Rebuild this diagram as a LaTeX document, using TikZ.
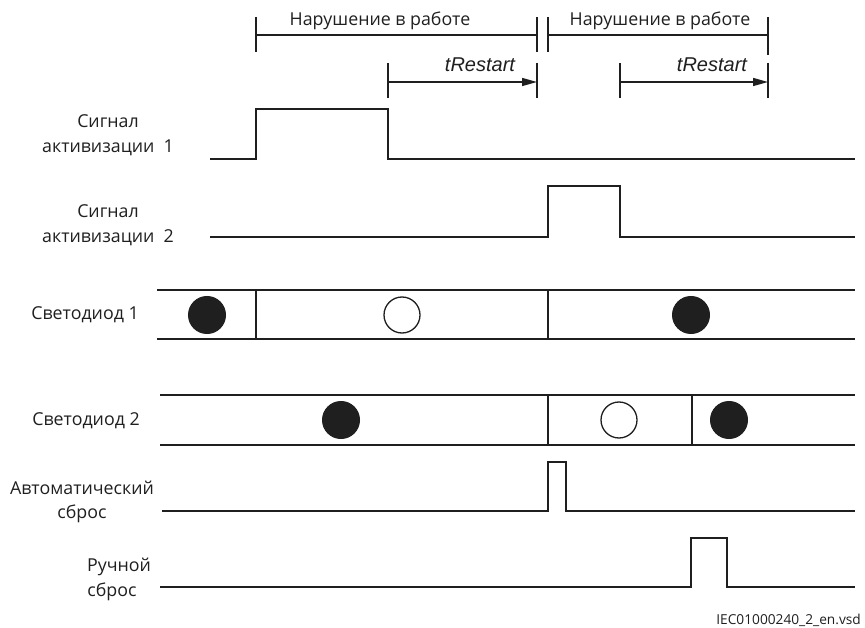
\documentclass[tikz,border=0pt]{standalone}
\usepackage{fontspec}
\setmainfont{Open Sans}
\newfontfamily\arialit{Liberation Sans}
\usetikzlibrary{arrows.meta}
\begin{document}
\begin{tikzpicture}[x=1pt,y=-1pt,
  wave/.style={line width=1.4pt, draw=black!88},
  bar/.style={line width=1.4pt, draw=black!88},
  lbl/.style={font=\fontsize{17.8}{24.5}\selectfont, text=black!88, align=center, inner sep=0pt},
  timelbl/.style={font=\fontsize{20}{22}\selectfont\arialit\itshape, text=black!88, inner sep=0pt},
  ledon/.style={circle, fill=black!88, draw=black!88, line width=1pt, minimum size=37pt, inner sep=0pt},
  ledoff/.style={circle, fill=white, draw=black!88, line width=1.3pt, minimum size=36pt, inner sep=0pt},
  span/.style={line width=1.4pt, draw=black!88, -{Triangle[length=15pt,width=8pt]}}
]
\useasboundingbox (0,0) rectangle (865,628);

% fault-duration brackets
\draw[bar] (256,17) -- (256,52);
\draw[bar] (537,17) -- (537,52);
\draw[bar] (548,17) -- (548,52);
\draw[bar] (768,17) -- (768,55);
\coordinate (f1a) at (256,35); \coordinate (f1b) at (537,35);
\coordinate (f2a) at (548,35); \coordinate (f2b) at (768,35);
\draw[bar] (f1a) -- (f1b);
\draw[bar] (f2a) -- (f2b);
\node[lbl] (fault1) at (380,21) {Нарушение в работе};
\node[lbl] (fault2) at (660,21) {Нарушение в работе};

% restart timers
\draw[bar] (388,63) -- (388,98);
\draw[bar] (537,63) -- (537,98);
\draw[bar] (620,63) -- (620,98);
\draw[bar] (768,63) -- (768,98);
\coordinate (r1a) at (388,82); \coordinate (r1b) at (537,82);
\coordinate (r2a) at (620,82); \coordinate (r2b) at (768,82);
\draw[span] (r1a) -- (r1b);
\draw[span] (r2a) -- (r2b);
\node[timelbl] (tr1) at (480,65) {tRestart};
\node[timelbl] (tr2) at (712,65) {tRestart};

% activation signals
\node[lbl] (sig1) at (108,135) {Сигнал\\активизации\ \ 1};
\draw[wave] (210,159) -| (256,109) -| (388,159) -- (855,159);
\node[lbl] (sig2) at (108,225) {Сигнал\\активизации\ \ 2};
\draw[wave] (210,237) -| (548,186) -| (620,237) -- (855,237);

% LED 1
\node[lbl] (led1) at (85,315) {Светодиод 1};
\draw[wave] (157,290) -- (855,290);
\draw[wave] (157,339) -- (855,339);
\draw[wave] (256,290) -- (256,339);
\draw[wave] (548,290) -- (548,339);
\node[ledon]  (l1a) at (207,315) {};
\node[ledoff] (l1b) at (402,315) {};
\node[ledon]  (l1c) at (691,315) {};

% LED 2
\node[lbl] (led2) at (86,421) {Светодиод 2};
\draw[wave] (160,395) -- (855,395);
\draw[wave] (160,445) -- (855,445);
\draw[wave] (548,395) -- (548,445);
\draw[wave] (692,395) -- (692,445);
\node[ledon]  (l2a) at (341,420) {};
\node[ledoff] (l2b) at (619,420) {};
\node[ledon]  (l2c) at (729,420) {};

% automatic reset
\node[lbl] (auto) at (82,502) {Автоматический\\сброс};
\draw[wave] (162,511) -| (548,462) -| (566,511) -- (855,511);

% manual reset
\node[lbl] (man1) at (119,567) {Ручной};
\node[lbl] (man2) at (112,592) {сброс};
\draw[wave] (160,587) -| (691,538) -| (727,587) -- (855,587);

% drawing reference
\node[font=\fontsize{13.7}{16}\selectfont, text=black!88, anchor=east, inner sep=0pt] (ref) at (861,620) {IEC01000240\_2\_en.vsd};
\end{tikzpicture}
\end{document}
